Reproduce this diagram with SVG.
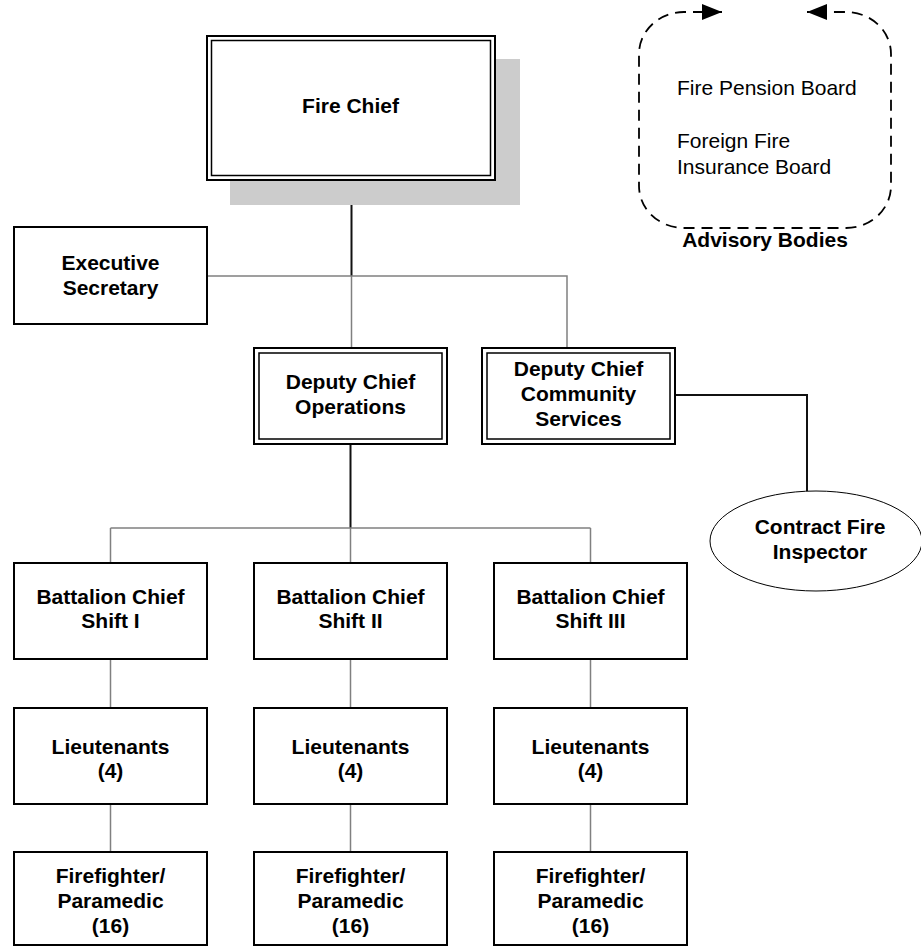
<svg xmlns="http://www.w3.org/2000/svg" width="921" height="948" viewBox="0 0 921 948">
<style>
.box{fill:#fff;stroke:#000;stroke-width:2}
.inner{fill:none;stroke:#000;stroke-width:1.5}
.t{font-family:"Liberation Sans",Arial,sans-serif;font-size:21px;font-weight:bold;fill:#000;text-anchor:middle}
.n{font-family:"Liberation Sans",Arial,sans-serif;font-size:21px;fill:#000}
.g{fill:none;stroke:#808080;stroke-width:1.5}
.d{fill:none;stroke:#111;stroke-width:2}
</style>
<defs>
<marker id="ah" markerUnits="userSpaceOnUse" markerWidth="22" markerHeight="20" refX="20" refY="10" orient="auto-start-reverse">
<path d="M0,2 L20,10 L0,18 z" fill="#000"/>
</marker>
</defs>
<rect width="921" height="948" fill="#fff"/>
<g id="connectors">
<path class="d" d="M351.5,181 V276"/>
<path class="g" d="M351.5,276 V348 M207,276 H567 V348"/>
<path class="d" d="M675,395 H807 V491"/>
<path class="d" d="M350.5,444 V528"/>
<path class="g" d="M110.5,528 H590.5 M110.5,528 V563 M350.5,528 V563 M590.5,528 V563"/>
<path class="g" d="M110.5,659 V708 M350.5,659 V708 M590.5,659 V708"/>
<path class="g" d="M110.5,804 V852 M350.5,804 V852 M590.5,804 V852"/>
</g>
<g id="fire-chief">
<rect x="230" y="59" width="290" height="146" fill="#cccccc"/>
<rect class="box" x="207" y="36" width="288" height="144"/>
<rect class="inner" x="211.5" y="40.5" width="279" height="135"/>
<text class="t" x="350.5" y="113">Fire Chief</text>
</g>
<g id="advisory-bodies">
<path d="M722,12 H684 A45,42 0 0 0 639,54 V186 A45,42 0 0 0 684,228 H846 A45,42 0 0 0 891,186 V54 A45,42 0 0 0 846,12 H807" fill="none" stroke="#000" stroke-width="1.8" stroke-dasharray="11,7" marker-start="url(#ah)" marker-end="url(#ah)"/>
<text class="n" x="677" y="95">Fire Pension Board</text>
<text class="n" x="677" y="148">Foreign Fire</text>
<text class="n" x="677" y="174">Insurance Board</text>
<text class="t" x="765" y="247">Advisory Bodies</text>
</g>
<g id="executive-secretary">
<rect class="box" x="14" y="227" width="193" height="97"/>
<text class="t" x="110.5" y="270">Executive</text>
<text class="t" x="110.5" y="295">Secretary</text>
</g>
<g id="deputy-ops">
<rect class="box" x="254" y="348" width="193" height="96"/>
<rect class="inner" x="259" y="353" width="183" height="86"/>
<text class="t" x="350.5" y="389">Deputy Chief</text>
<text class="t" x="350.5" y="414">Operations</text>
</g>
<g id="deputy-community">
<rect class="box" x="482" y="348" width="193" height="96"/>
<rect class="inner" x="487" y="353" width="183" height="86"/>
<text class="t" x="578.5" y="376">Deputy Chief</text>
<text class="t" x="578.5" y="401">Community</text>
<text class="t" x="578.5" y="426">Services</text>
</g>
<g id="contract-inspector">
<ellipse cx="816" cy="541" rx="106" ry="50" fill="#fff" stroke="#000" stroke-width="1"/>
<text class="t" x="820" y="534">Contract Fire</text>
<text class="t" x="820" y="559">Inspector</text>
</g>
<g id="bc1">
<rect class="box" x="14" y="563" width="193" height="96"/>
<text class="t" x="110.5" y="604">Battalion Chief</text>
<text class="t" x="110.5" y="628">Shift I</text>
</g>
<g id="bc2">
<rect class="box" x="254" y="563" width="193" height="96"/>
<text class="t" x="350.5" y="604">Battalion Chief</text>
<text class="t" x="350.5" y="628">Shift II</text>
</g>
<g id="bc3">
<rect class="box" x="494" y="563" width="193" height="96"/>
<text class="t" x="590.5" y="604">Battalion Chief</text>
<text class="t" x="590.5" y="628">Shift III</text>
</g>
<g id="lt1">
<rect class="box" x="14" y="708" width="193" height="96"/>
<text class="t" x="110.5" y="754">Lieutenants</text>
<text class="t" x="110.5" y="778">(4)</text>
</g>
<g id="lt2">
<rect class="box" x="254" y="708" width="193" height="96"/>
<text class="t" x="350.5" y="754">Lieutenants</text>
<text class="t" x="350.5" y="778">(4)</text>
</g>
<g id="lt3">
<rect class="box" x="494" y="708" width="193" height="96"/>
<text class="t" x="590.5" y="754">Lieutenants</text>
<text class="t" x="590.5" y="778">(4)</text>
</g>
<g id="ff1">
<rect class="box" x="14" y="852" width="193" height="93"/>
<text class="t" x="110.5" y="883">Firefighter/</text>
<text class="t" x="110.5" y="908">Paramedic</text>
<text class="t" x="110.5" y="933">(16)</text>
</g>
<g id="ff2">
<rect class="box" x="254" y="852" width="193" height="93"/>
<text class="t" x="350.5" y="883">Firefighter/</text>
<text class="t" x="350.5" y="908">Paramedic</text>
<text class="t" x="350.5" y="933">(16)</text>
</g>
<g id="ff3">
<rect class="box" x="494" y="852" width="193" height="93"/>
<text class="t" x="590.5" y="883">Firefighter/</text>
<text class="t" x="590.5" y="908">Paramedic</text>
<text class="t" x="590.5" y="933">(16)</text>
</g>
</svg>
